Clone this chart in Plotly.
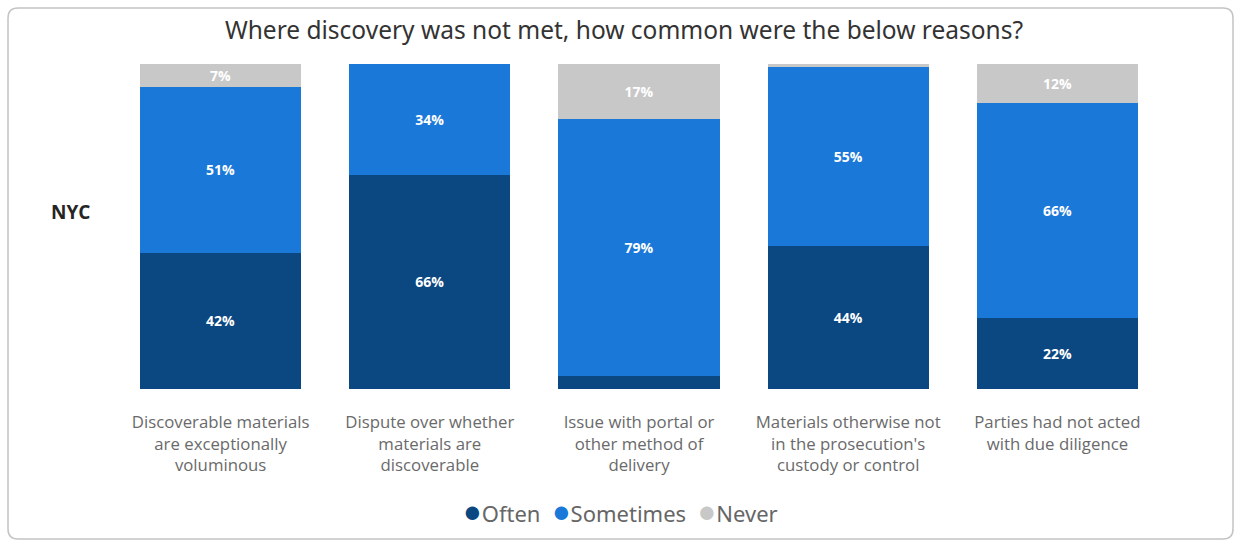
import plotly.graph_objects as go

# Survey reasons and response shares (%)
reasons = [
    "Discoverable materials<br>are exceptionally<br>voluminous",
    "Dispute over whether<br>materials are<br>discoverable",
    "Issue with portal or<br>other method of<br>delivery",
    "Materials otherwise not<br>in the prosecution's<br>custody or control",
    "Parties had not acted<br>with due diligence",
]
often = [42, 66, 4, 44, 22]
sometimes = [51, 34, 79, 55, 66]
never = [7, 0, 17, 1, 12]

series = [
    ("Often", often, "#0b4781"),
    ("Sometimes", sometimes, "#1a78d9"),
    ("Never", never, "#c8c8c8"),
]

fig = go.Figure()
for name, vals, color in series:
    labels = [f"<b>{v}%</b>" if v >= 5 else "" for v in vals]
    fig.add_trace(go.Bar(
        x=reasons, y=vals, name=name,
        marker=dict(color=color, line=dict(width=0)),
        text=labels, textposition="inside", insidetextanchor="middle",
        textangle=0, constraintext="none",
        textfont=dict(color="white", size=14, family="Open Sans"),
        showlegend=False, hoverinfo="skip",
    ))

W, H = 1239, 542
left, right, top, bottom = 116, 77, 64, 153
pw, ph = W - left - right, H - top - bottom

# compact legend row with coloured dots
legend_text = "  ".join(
    f"<span style='color:{c};font-size:31px'>●</span>{n}" for n, _, c in series
)

fig.update_layout(
    width=W, height=H,
    barmode="stack", bargap=0.23,
    plot_bgcolor="white", paper_bgcolor="white",
    margin=dict(l=left, r=right, t=top, b=bottom),
    showlegend=False,
    title=dict(
        text="Where discovery was not met, how common were the below reasons?",
        x=624 / W, xanchor="center", y=1 - 30 / H, yanchor="middle",
        font=dict(size=24.5, color="#333333", family="Noto Sans"),
    ),
    xaxis=dict(
        showgrid=False, showline=False, zeroline=False,
        tickfont=dict(size=16.8, color="#6a6a6a", family="Open Sans"),
        ticklabelstandoff=21,
    ),
    yaxis=dict(
        range=[0, 100], showgrid=False, showticklabels=False,
        zeroline=False, showline=False,
    ),
    annotations=[
        dict(
            text="<b>NYC</b>", xref="paper", yref="paper",
            x=(70 - left) / pw, y=(389 - 212) / ph,
            xanchor="center", yanchor="middle", showarrow=False,
            font=dict(size=19, color="#252525", family="Open Sans"),
        ),
        dict(
            text=legend_text, xref="paper", yref="paper",
            x=(620 - left) / pw, y=-(510 - 389) / ph,
            xanchor="center", yanchor="middle", showarrow=False,
            font=dict(size=22, color="#666666", family="Noto Sans"),
        ),
    ],
)

# rounded card border around the whole visual
x0, y0, x1, y1, r = 8, 8, W - 6, H - 3, 10
path = (
    f"M {x0 + r},{y0} L {x1 - r},{y0} Q {x1},{y0} {x1},{y0 + r} "
    f"L {x1},{y1 - r} Q {x1},{y1} {x1 - r},{y1} L {x0 + r},{y1} "
    f"Q {x0},{y1} {x0},{y1 - r} L {x0},{y0 + r} Q {x0},{y0} {x0 + r},{y0} Z"
)

def px_to_paper(px, py):
    return (px - left) / pw, (H - bottom - py) / ph

pts = []
for tok in path.split():
    if "," in tok:
        a, b = tok.split(",")
        u, v = px_to_paper(float(a), float(b))
        pts.append(f"{u:.5f},{v:.5f}")
    else:
        pts.append(tok)
fig.add_shape(type="path", xref="paper", yref="paper", path=" ".join(pts),
              line=dict(color="#c4c4c4", width=1.5), layer="below")

fig.write_html("out.html")
